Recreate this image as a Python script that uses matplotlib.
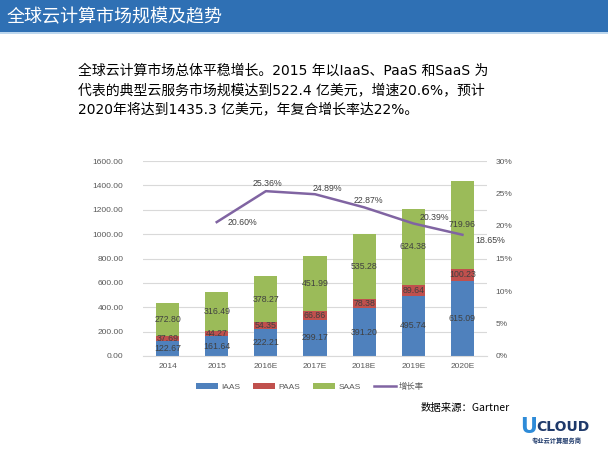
import matplotlib
matplotlib.use("Agg")
import matplotlib.pyplot as plt
from matplotlib.patches import Rectangle, Patch
from matplotlib.lines import Line2D
from matplotlib.ticker import FuncFormatter, MultipleLocator

plt.rcParams['font.family'] = ['Noto Sans CJK SC', 'DejaVu Sans']

years = ["2014", "2015", "2016E", "2017E", "2018E", "2019E", "2020E"]
iaas = [122.67, 161.64, 222.21, 299.17, 391.20, 495.74, 615.09]
paas = [37.69, 44.27, 54.35, 66.86, 78.38, 89.64, 100.23]
saas = [272.80, 316.49, 378.27, 451.99, 535.28, 624.38, 719.96]
growth_years = ["2015", "2016E", "2017E", "2018E", "2019E", "2020E"]
growth = [20.60, 25.36, 24.89, 22.87, 20.39, 18.65]

title = "全球云计算市场规模及趋势"
para = ["全球云计算市场总体平稳增长。2015 年以IaaS、PaaS 和SaaS 为",
        "代表的典型云服务市场规模达到522.4 亿美元，增速20.6%，预计",
        "2020年将达到1435.3 亿美元，年复合增长率达22%。"]

W, H = 608, 457
fig = plt.figure(figsize=(W / 100, H / 100), dpi=100)
fig.patch.set_facecolor("white")

# title bar
fig.patches.append(Rectangle((0, 1 - 32 / H), 1, 32 / H, transform=fig.transFigure,
                             facecolor="#2F70B4", edgecolor="none", zorder=0))
fig.patches.append(Rectangle((0, 1 - 34 / H), 1, 2 / H, transform=fig.transFigure,
                             facecolor="#BDD7EE", edgecolor="none", zorder=0))
fig.text(7 / W, 1 - 17 / H, title, color="white", fontsize=13, va="center", ha="left")

ys = [71, 90, 109]
para_font = ['DejaVu Sans', 'Noto Sans CJK SC']
for line, y in zip(para, ys):
    fig.text(78 / W, 1 - y / H, line, color="black", fontsize=10, va="center", ha="left",
             family=para_font)

num_font = ['Liberation Sans', 'DejaVu Sans']

# chart
ax = fig.add_axes([143 / W, 1 - 356 / H, 344 / W, 195 / H])
x = list(range(len(years)))
bw = 0.47
c_i, c_p, c_s, c_l = "#4F81BD", "#C0504D", "#9BBB59", "#8064A2"
ax.bar(x, iaas, bw, color=c_i, zorder=2)
ax.bar(x, paas, bw, bottom=iaas, color=c_p, zorder=2)
bot2 = [a + b for a, b in zip(iaas, paas)]
ax.bar(x, saas, bw, bottom=bot2, color=c_s, zorder=2)

lab_c = "#404040"
for i in x:
    ax.text(i, iaas[i] / 2, f"{iaas[i]:.2f}", ha="center", va="center", fontsize=6.3,
            color=lab_c, zorder=3, family=num_font)
    ax.text(i, iaas[i] + paas[i] / 2, f"{paas[i]:.2f}", ha="center", va="center", fontsize=6.3,
            color=lab_c, zorder=3, family=num_font)
    ax.text(i, bot2[i] + saas[i] / 2, f"{saas[i]:.2f}", ha="center", va="center", fontsize=6.3,
            color=lab_c, zorder=3, family=num_font)

ax.set_xlim(-0.5, len(years) - 0.5)
ax.set_ylim(0, 1600)
ax.yaxis.set_major_locator(MultipleLocator(200))
ax.yaxis.set_major_formatter(FuncFormatter(lambda v, p: f"{v:.2f}"))
ax.set_xticks(x)
ax.set_xticklabels(years)
ax.grid(axis="y", color="#D9D9D9", linewidth=0.8, zorder=0)
ax.set_axisbelow(True)
for s in ["top", "right", "left"]:
    ax.spines[s].set_visible(False)
ax.spines["bottom"].set_color("#D9D9D9")
ax.tick_params(axis="both", length=0, labelsize=6, labelcolor="#595959")
ax.tick_params(axis="y", pad=14)
ax.tick_params(axis="x", pad=5)
for t in ax.get_xticklabels() + ax.get_yticklabels():
    t.set_family(num_font)

ax2 = ax.twinx()
gx = [years.index(g) for g in growth_years]
ax2.plot(gx, growth, color=c_l, linewidth=1.8, zorder=4)
ax2.set_ylim(0, 30)
ax2.yaxis.set_major_locator(MultipleLocator(5))
ax2.yaxis.set_major_formatter(FuncFormatter(lambda v, p: f"{v:.0f}%"))
for s in ["top", "right", "left", "bottom"]:
    ax2.spines[s].set_visible(False)
ax2.tick_params(axis="y", length=0, labelsize=6, labelcolor="#595959", pad=6)
for t in ax2.get_yticklabels():
    t.set_family(num_font)

offsets = [(26, 0), (2, 8), (12, 6), (4, 7), (21, 6), (28, -6)]
for xi, g, off in zip(gx, growth, offsets):
    ax2.annotate(f"{g:.2f}%", (xi, g), xytext=off, textcoords="offset pixels",
                 ha="center", va="center", fontsize=6.3, color=lab_c, zorder=5, family=num_font)

handles = [Patch(facecolor=c_i, label="IAAS"), Patch(facecolor=c_p, label="PAAS"),
           Patch(facecolor=c_s, label="SAAS"), Line2D([], [], color=c_l, linewidth=1.8, label="增长率")]
leg = fig.legend(handles=handles, loc="center", bbox_to_anchor=(310 / W, 1 - 387 / H), ncol=4,
                 frameon=False, fontsize=6, handlelength=2.6, handleheight=0.6,
                 columnspacing=1.6, handletextpad=0.4)
for t in leg.get_texts():
    t.set_color("#595959")
    t.set_family(['Liberation Sans', 'Noto Sans CJK SC'])

fig.text(510 / W, 1 - 408 / H, "数据来源：Gartner", fontsize=7.5, color="black", ha="right", va="center")

# logo
fig.text(520 / W, 1 - 427 / H, "U", fontsize=15, fontweight="bold", color="#2E8BD8",
         ha="left", va="center", family=["DejaVu Sans"])
fig.text(536 / W, 1 - 427 / H, "CLOUD", fontsize=10, fontweight="bold", color="#1F3A6B",
         ha="left", va="center", family=["DejaVu Sans"])
fig.text(557 / W, 1 - 440 / H, "专业云计算服务商", fontsize=4.5, fontweight="bold", color="#1F3A6B",
         ha="center", va="center")

fig.savefig("out.png", dpi=100)
